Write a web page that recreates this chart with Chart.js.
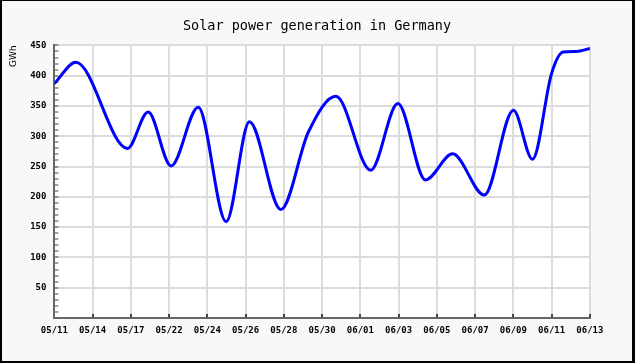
<!DOCTYPE html>
<html>
<head>
<meta charset="utf-8">
<script src="https://cdn.jsdelivr.net/npm/chart.js@4.4.1/dist/chart.umd.min.js"></script>
<style>
  body { margin: 0; background: #fff; }
  #frame {
    width: 630px; height: 360px;
    border-style: solid; border-color: #000;
    border-width: 1px 3px 2px 2px;
    background: #f8f8f8;
  }
</style>
</head>
<body>
<div id="frame"><canvas id="solar"></canvas></div>
<script>
// tick labels on the x axis (evenly spaced in the original)
var dateLabels = ['05/11', '05/14', '05/17', '05/22', '05/24', '05/26', '05/28', '05/30',
                  '06/01', '06/03', '06/05', '06/07', '06/09', '06/11', '06/13'];

// position along the axis (in label steps) and generation in GWh
var pos = [0, 0.56, 1.91, 2.45, 3.05, 3.76, 4.49, 5.10, 5.92, 6.64, 7.36, 8.27, 8.98,
           9.70, 10.41, 11.24, 12.0, 12.5, 13.0, 13.3, 13.65, 14];
var gwh = [387, 422, 280, 340, 251, 348, 159, 324, 179, 307, 366, 244, 354,
           228, 271, 203, 343, 262, 404, 439, 440, 445];

var points = [];
for (var i in pos) {
	points.push({ x: pos[i], y: gwh[i] });
}

// white plot area on the grey page
var plotBg = {
	id: 'plotBg',
	beforeDraw: function(chart) {
		var a = chart.chartArea;
		chart.ctx.save();
		chart.ctx.fillStyle = '#ffffff';
		chart.ctx.fillRect(a.left, a.top, a.right - a.left, a.bottom - a.top);
		chart.ctx.restore();
	}
};

var tickFont = { family: 'DejaVu Sans Mono', size: 9, weight: 'bold' };

new Chart(document.getElementById('solar'), {
	type: 'line',
	data: {
		datasets: [{
			label: 'Solar power generation',
			data: points,
			borderColor: '#0000ff',
			borderWidth: 3,
			pointRadius: 0,
			cubicInterpolationMode: 'monotone',
			fill: false
		}]
	},
	options: {
		responsive: true,
		maintainAspectRatio: false,
		animation: false,
		devicePixelRatio: 1,
		layout: { padding: 0 },
		plugins: {
			legend: { display: false },
			tooltip: { enabled: false },
			title: {
				display: true,
				text: 'Solar power generation in Germany',
				color: '#000',
				font: { family: 'DejaVu Sans Mono', size: 13.5, weight: 'normal' },
				padding: { top: 17, bottom: 11.2 }
			}
		},
		scales: {
			x: {
				type: 'linear',
				min: 0,
				max: 14,
				afterFit: function(s) { s.height = 43; },
				ticks: {
					stepSize: 1,
					autoSkip: false,
					maxRotation: 0,
					color: '#000',
					font: tickFont,
					padding: 11,
					callback: function(v) { return dateLabels[v]; }
				},
				grid: { color: '#dcdcdc', lineWidth: 2, tickLength: -4, tickColor: '#444' },
				border: { color: '#666', width: 2 }
			},
			y: {
				min: 0,
				max: 450,
				afterFit: function(s) { s.width = 52.4; },
				ticks: {
					stepSize: 10,
					autoSkip: false,
					color: '#000',
					font: tickFont,
					padding: 12,
					callback: function(v) { return (v % 50 === 0 && v > 0) ? v : ''; }
				},
				grid: {
					color: function(c) { return c.tick && c.tick.value % 50 === 0 ? '#dcdcdc' : 'rgba(0,0,0,0)'; },
					lineWidth: 2,
					tickLength: -4,
					tickColor: '#444',
					tickWidth: 1
				},
				border: { color: '#666', width: 2 },
				title: {
					display: true,
					text: 'GWh',
					align: 'end',
					color: '#000',
					font: { family: 'DejaVu Sans', size: 9 },
					padding: { top: 6, bottom: 0 }
				}
			},
			// empty right-hand margin so the title centres on the whole canvas
			yRight: {
				position: 'right',
				min: 0,
				max: 450,
				afterFit: function(s) { s.width = 42.1; },
				ticks: { display: false },
				grid: { display: false },
				border: { display: false }
			}
		}
	},
	plugins: [plotBg]
});
</script>
</body>
</html>
